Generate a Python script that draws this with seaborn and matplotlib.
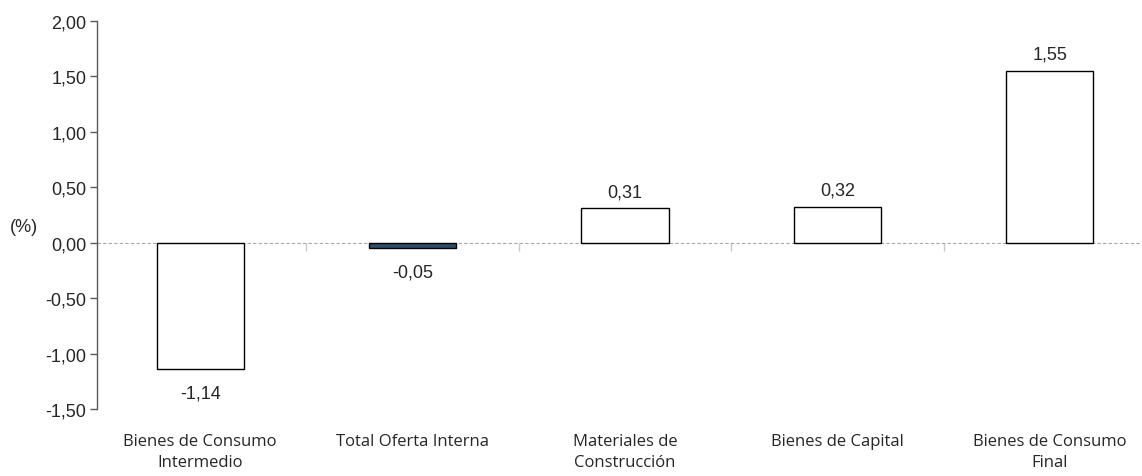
import matplotlib
matplotlib.use("Agg")
from matplotlib import pyplot as plt
from matplotlib.ticker import FuncFormatter
import pandas as pd
import seaborn as sns

# datos
categorias = ["Bienes de Consumo\nIntermedio", "Total Oferta Interna",
              "Materiales de\nConstrucción", "Bienes de Capital",
              "Bienes de Consumo\nFinal"]
valores = [-1.14, -0.05, 0.31, 0.32, 1.55]
colores = ["white", "#1F4E79", "white", "white", "white"]

df = pd.DataFrame({"cat": categorias, "val": valores})

sns.set_style("white")
plt.rcParams['font.family'] = ['Liberation Sans', 'DejaVu Sans']

fig = plt.figure(figsize=(11.42, 4.77), dpi=100)
ax = fig.add_axes([97 / 1142, 67 / 477, 1045 / 1142, 388 / 477])

sns.barplot(data=df, x="cat", y="val", hue="cat", palette=dict(zip(categorias, colores)),
            legend=False, width=0.41, edgecolor="black", linewidth=1.0, ax=ax,
            order=categorias, hue_order=categorias)

ax.set_xlim(-0.486, 4.434)
ax.set_ylim(-1.5, 2.0)
ax.set_yticks([-1.5, -1.0, -0.5, 0, 0.5, 1.0, 1.5, 2.0])
ax.yaxis.set_major_formatter(FuncFormatter(lambda v, p: f"{v:.2f}".replace(".", ",")))
ax.tick_params(axis="y", direction="out", length=5, width=1, color="#595959",
               labelsize=13, pad=2.5, left=True)
ax.set_xlabel("")
ax.set_ylabel("")

for s in ["top", "right", "bottom"]:
    ax.spines[s].set_visible(False)
ax.spines["left"].set_color("#595959")
ax.spines["left"].set_linewidth(1)

# etiquetas de categorias
ax.tick_params(axis="x", length=0, pad=17)
for lab in ax.get_xticklabels():
    lab.set_fontfamily(['Open Sans', 'DejaVu Sans'])
    lab.set_fontsize(12)
    lab.set_linespacing(1.45)

# linea de cero
ax.axhline(0, color="#A6A6A6", lw=0.8, ls=(0, (3, 2)), zorder=0.5)
sec = ax.secondary_xaxis(1.5 / 3.5)
sec.set_xticks([0.5, 1.5, 2.5, 3.5])
sec.set_xticklabels([])
sec.tick_params(direction="out", length=6, width=1, color="#C8C8C8")
sec.spines["bottom"].set_visible(False)

# una barra por contenedor (hue = categoria)
for c in ax.containers:
    v = c.datavalues[0]
    ax.bar_label(c, labels=[f"{v:.2f}".replace(".", ",")],
                 padding=6 if v >= 0 else 11, fontsize=13)

ax.text(-0.083, 1.5 / 3.5 + 0.041, "(%)", transform=ax.transAxes, fontsize=13,
        ha="left", va="center")

fig.savefig("out.png", dpi=100)
